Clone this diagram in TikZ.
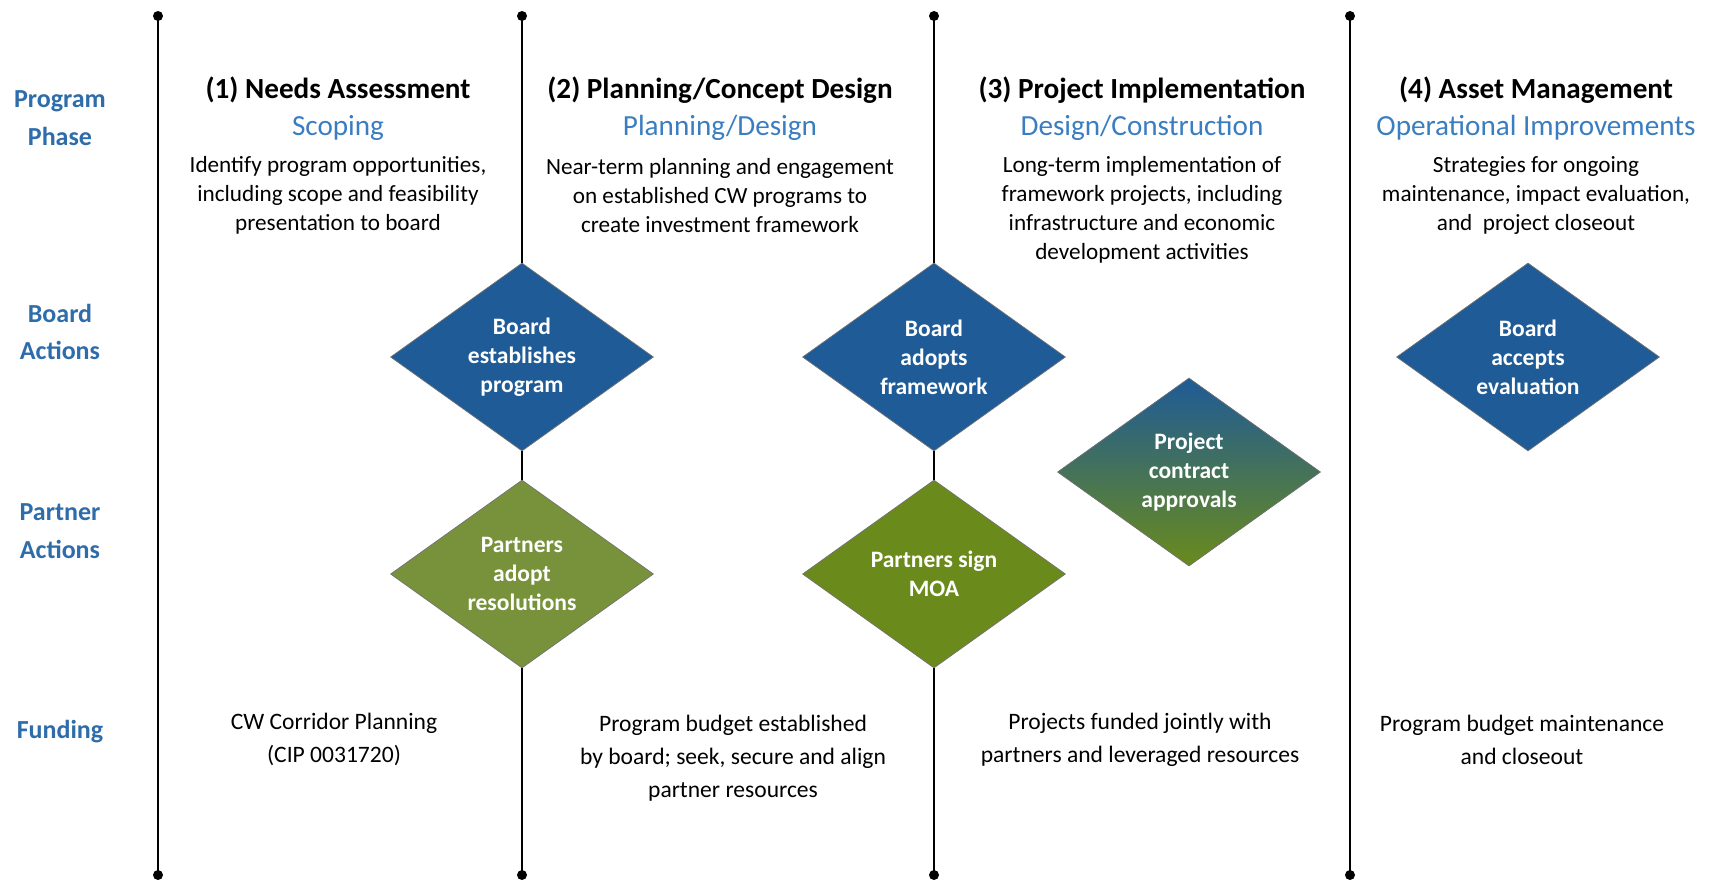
\documentclass[tikz,border=0pt]{standalone}
\usepackage{fontspec}
\setmainfont{Carlito}
\usetikzlibrary{shapes.geometric}

\definecolor{lblblue}{RGB}{46,108,170}
\definecolor{subblue}{RGB}{58,125,192}
\definecolor{boardblue}{RGB}{31,91,150}
\definecolor{partnerolive}{RGB}{119,146,58}
\definecolor{partnergreen}{RGB}{106,138,28}

\begin{document}
\begin{tikzpicture}
	\useasboundingbox (0,0) rectangle (34.22,-17.6);

	% styles for the rows and the diamonds
	\tikzstyle{row label} = [lblblue, align=center, font=\fontsize{14.8}{21.5}\selectfont\bfseries]
	\tikzstyle{phase title} = [font=\fontsize{16.6}{20}\selectfont\bfseries]
	\tikzstyle{phase sub} = [subblue, font=\fontsize{16.6}{20}\selectfont]
	\tikzstyle{phase text} = [align=center, font=\fontsize{13.2}{16.6}\selectfont]
	\tikzstyle{fund text} = [align=center, font=\fontsize{13.4}{18.7}\selectfont]
	\tikzstyle{action} = [diamond, draw=black!55, thin, inner sep=0pt, minimum width=5.26cm, minimum height=3.76cm,
		text=white, align=center, font=\fontsize{13.4}{16.5}\selectfont\bfseries, fill=#1]
	\tikzstyle{spine} = [black, line width=1.6pt]

	% row labels
	\node[row label] (phaselbl) at (1.2,-2.36) {Program\\Phase};
	\node[row label] (boardlbl) at (1.2,-6.64) {Board\\Actions};
	\node[row label] (partnerlbl) at (1.2,-10.62) {Partner\\Actions};
	\node[row label] (fundlbl) at (1.2,-14.64) {Funding};

	% phase headings
	\node[phase title] (title1) at (6.76,-1.8) {(1) Needs Assessment};
	\node[phase title] (title2) at (14.4,-1.8) {(2) Planning/Concept Design};
	\node[phase title] (title3) at (22.84,-1.8) {(3) Project Implementation};
	\node[phase title] (title4) at (30.72,-1.8) {(4) Asset Management};

	\node[phase sub] (sub1) at (6.76,-2.56) {Scoping};
	\node[phase sub] (sub2) at (14.4,-2.56) {Planning/Design};
	\node[phase sub] (sub3) at (22.84,-2.56) {Design/Construction};
	\node[phase sub] (sub4) at (30.72,-2.56) {Operational Improvements};

	\node[phase text] (desc1) at (6.76,-3.91) {Identify program opportunities,\\including scope and feasibility\\presentation to board};
	\node[phase text] (desc2) at (14.4,-3.91) {Near-term planning and engagement\\on established CW programs to\\create investment framework};
	\node[phase text] (desc3) at (22.84,-4.2) {Long-term implementation of\\framework projects, including\\infrastructure and economic\\development activities};
	\node[phase text] (desc4) at (30.72,-3.91) {Strategies for ongoing\\maintenance, impact evaluation,\\and\ \ project closeout};

	% funding
	\node[fund text] (fund1) at (6.68,-14.79) {CW Corridor Planning\\(CIP 0031720)};
	\node[fund text] (fund2) at (14.66,-15.16) {Program budget established\\by board; seek, secure and align\\partner resources};
	\node[fund text] (fund3) at (22.8,-14.79) {Projects funded jointly with\\partners and leveraged resources};
	\node[fund text] (fund4) at (30.44,-14.79) {Program budget maintenance\\and closeout};

	% decision diamonds
	\node[action=boardblue] (estab) at (10.44,-7.14) {Board\\establishes\\program};
	\node[action=partnerolive] (resol) at (10.44,-11.48) {Partners\\adopt\\resolutions};
	\node[action=boardblue] (adopt) at (18.68,-7.14) {Board\\adopts\\framework};
	\node[action=partnergreen] (moa) at (18.68,-11.48) {Partners sign\\MOA};
	\node[action=boardblue, top color=boardblue, bottom color=partnergreen] (contract) at (23.78,-9.44) {Project\\contract\\approvals};
	\node[action=boardblue] (accept) at (30.56,-7.14) {Board\\accepts\\evaluation};

	% phase boundaries
	\coordinate (top1) at (3.16,-0.32);
	\coordinate (top2) at (10.44,-0.32);
	\coordinate (top3) at (18.68,-0.32);
	\coordinate (top4) at (27.0,-0.32);
	\coordinate (bot1) at (3.16,-17.5);
	\coordinate (bot2) at (10.44,-17.5);
	\coordinate (bot3) at (18.68,-17.5);
	\coordinate (bot4) at (27.0,-17.5);

	\draw[spine] (top1) -- (bot1);
	\draw[spine] (top2) -- (estab.north);
	\draw[spine] (estab.south) -- (resol.north);
	\draw[spine] (resol.south) -- (bot2);
	\draw[spine] (top3) -- (adopt.north);
	\draw[spine] (adopt.south) -- (moa.north);
	\draw[spine] (moa.south) -- (bot3);
	\draw[spine] (top4) -- (bot4);
	\foreach \p in {top1,top2,top3,top4,bot1,bot2,bot3,bot4}
		\fill (\p) circle (0.1);
\end{tikzpicture}
\end{document}
